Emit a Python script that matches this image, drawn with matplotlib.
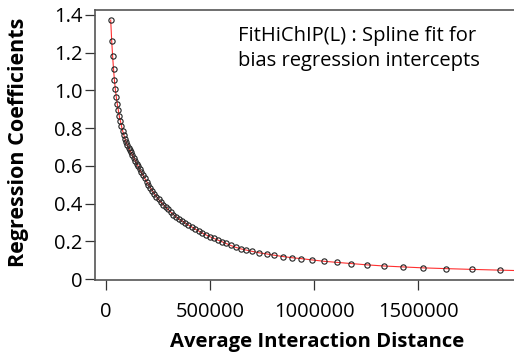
import matplotlib
matplotlib.use("Agg")
import matplotlib.pyplot as plt

plt.rcParams['font.family'] = ['Open Sans', 'DejaVu Sans']

# average interaction distance (bp) of each bin
avg_dist = [22600, 27400, 31700, 36100, 40400, 44700, 49500, 54300, 59100, 63900,
            69200, 74500, 79800, 85100, 90900, 96600, 102400, 108200, 114400, 120700,
            126900, 133700, 140400, 147600, 154800, 162500, 170200, 178400, 186500, 195200,
            203800, 213000, 222600, 232200, 242300, 252900, 263900, 275000, 286500, 298600,
            311100, 324000, 337500, 351500, 365900, 380800, 396200, 412000, 428400, 445200,
            462500, 480300, 498600, 517300, 536500, 556300, 576400, 599500, 623600, 647600,
            671600, 700500, 735600, 772600, 809100, 851000, 892800, 938900, 991800, 1048100,
            1112000, 1177900, 1254800, 1336500, 1427900, 1525500, 1636100, 1758200, 1892800]

# bias regression intercepts
coef = [1.373, 1.262, 1.183, 1.114, 1.055, 1.008, 0.965, 0.928, 0.896, 0.864,
        0.838, 0.811, 0.787, 0.766, 0.745, 0.727, 0.711, 0.697, 0.684, 0.671,
        0.658, 0.644, 0.628, 0.612, 0.597, 0.581, 0.565, 0.549, 0.533, 0.517,
        0.501, 0.485, 0.469, 0.453, 0.437, 0.422, 0.408, 0.395, 0.382, 0.369,
        0.355, 0.342, 0.329, 0.318, 0.308, 0.297, 0.286, 0.276, 0.265, 0.255,
        0.244, 0.234, 0.225, 0.216, 0.207, 0.198, 0.189, 0.178, 0.168, 0.160,
        0.154, 0.147, 0.139, 0.133, 0.126, 0.119, 0.113, 0.108, 0.101, 0.094,
        0.088, 0.082, 0.075, 0.069, 0.064, 0.059, 0.055, 0.051, 0.047]

# spline continues a little past the last bin
fit_x = avg_dist + [1965000]
fit_y = coef + [0.045]

xticks = [0, 500000, 1000000, 1500000]
yticks = [0, 0.2, 0.4, 0.6, 0.8, 1.0, 1.2, 1.4]
ytick_labels = ['0', '0.2', '0.4', '0.6', '0.8', '1.0', '1.2', '1.4']

fig = plt.figure(figsize=(5.14, 3.53), dpi=100)
ax = fig.add_axes([95 / 514, 73 / 353, 419 / 514, 270 / 353])

ax.plot(fit_x, fit_y, color='#ff3030', lw=0.8, zorder=2)
ax.plot(avg_dist, coef, ls='none', marker='o', ms=3.8, mfc='none',
        mec='#222222', mew=0.8, zorder=3)

ax.set_xlim(-52900, 1961500)
ax.set_ylim(-0.0053, 1.4265)

ax.set_xticks(xticks)
ax.set_xticklabels([str(v) for v in xticks])
ax.set_yticks(yticks)
ax.set_yticklabels(ytick_labels)
ax.tick_params(axis='both', labelsize=14.5, length=7, width=0.9, color='#333333')
ax.tick_params(axis='x', pad=9)
ax.tick_params(axis='y', pad=2)

for s in ['left', 'bottom', 'top']:
    ax.spines[s].set_color('#555555')
    ax.spines[s].set_linewidth(1.2)
ax.spines['right'].set_visible(False)

ax.set_xlabel('Average Interaction Distance', fontsize=14.6, fontweight='bold')
ax.set_ylabel('Regression Coefficients', fontsize=15.5, fontweight='bold')
ax.xaxis.set_label_coords(0.53, -0.193)
ax.yaxis.set_label_coords(-0.158, 0.51)

ax.text(0.341, 0.94, 'FitHiChIP(L) : Spline fit for\nbias regression intercepts',
        transform=ax.transAxes, fontsize=14.5, ha='left', va='top', linespacing=1.3)

fig.savefig('out.png', dpi=100)
